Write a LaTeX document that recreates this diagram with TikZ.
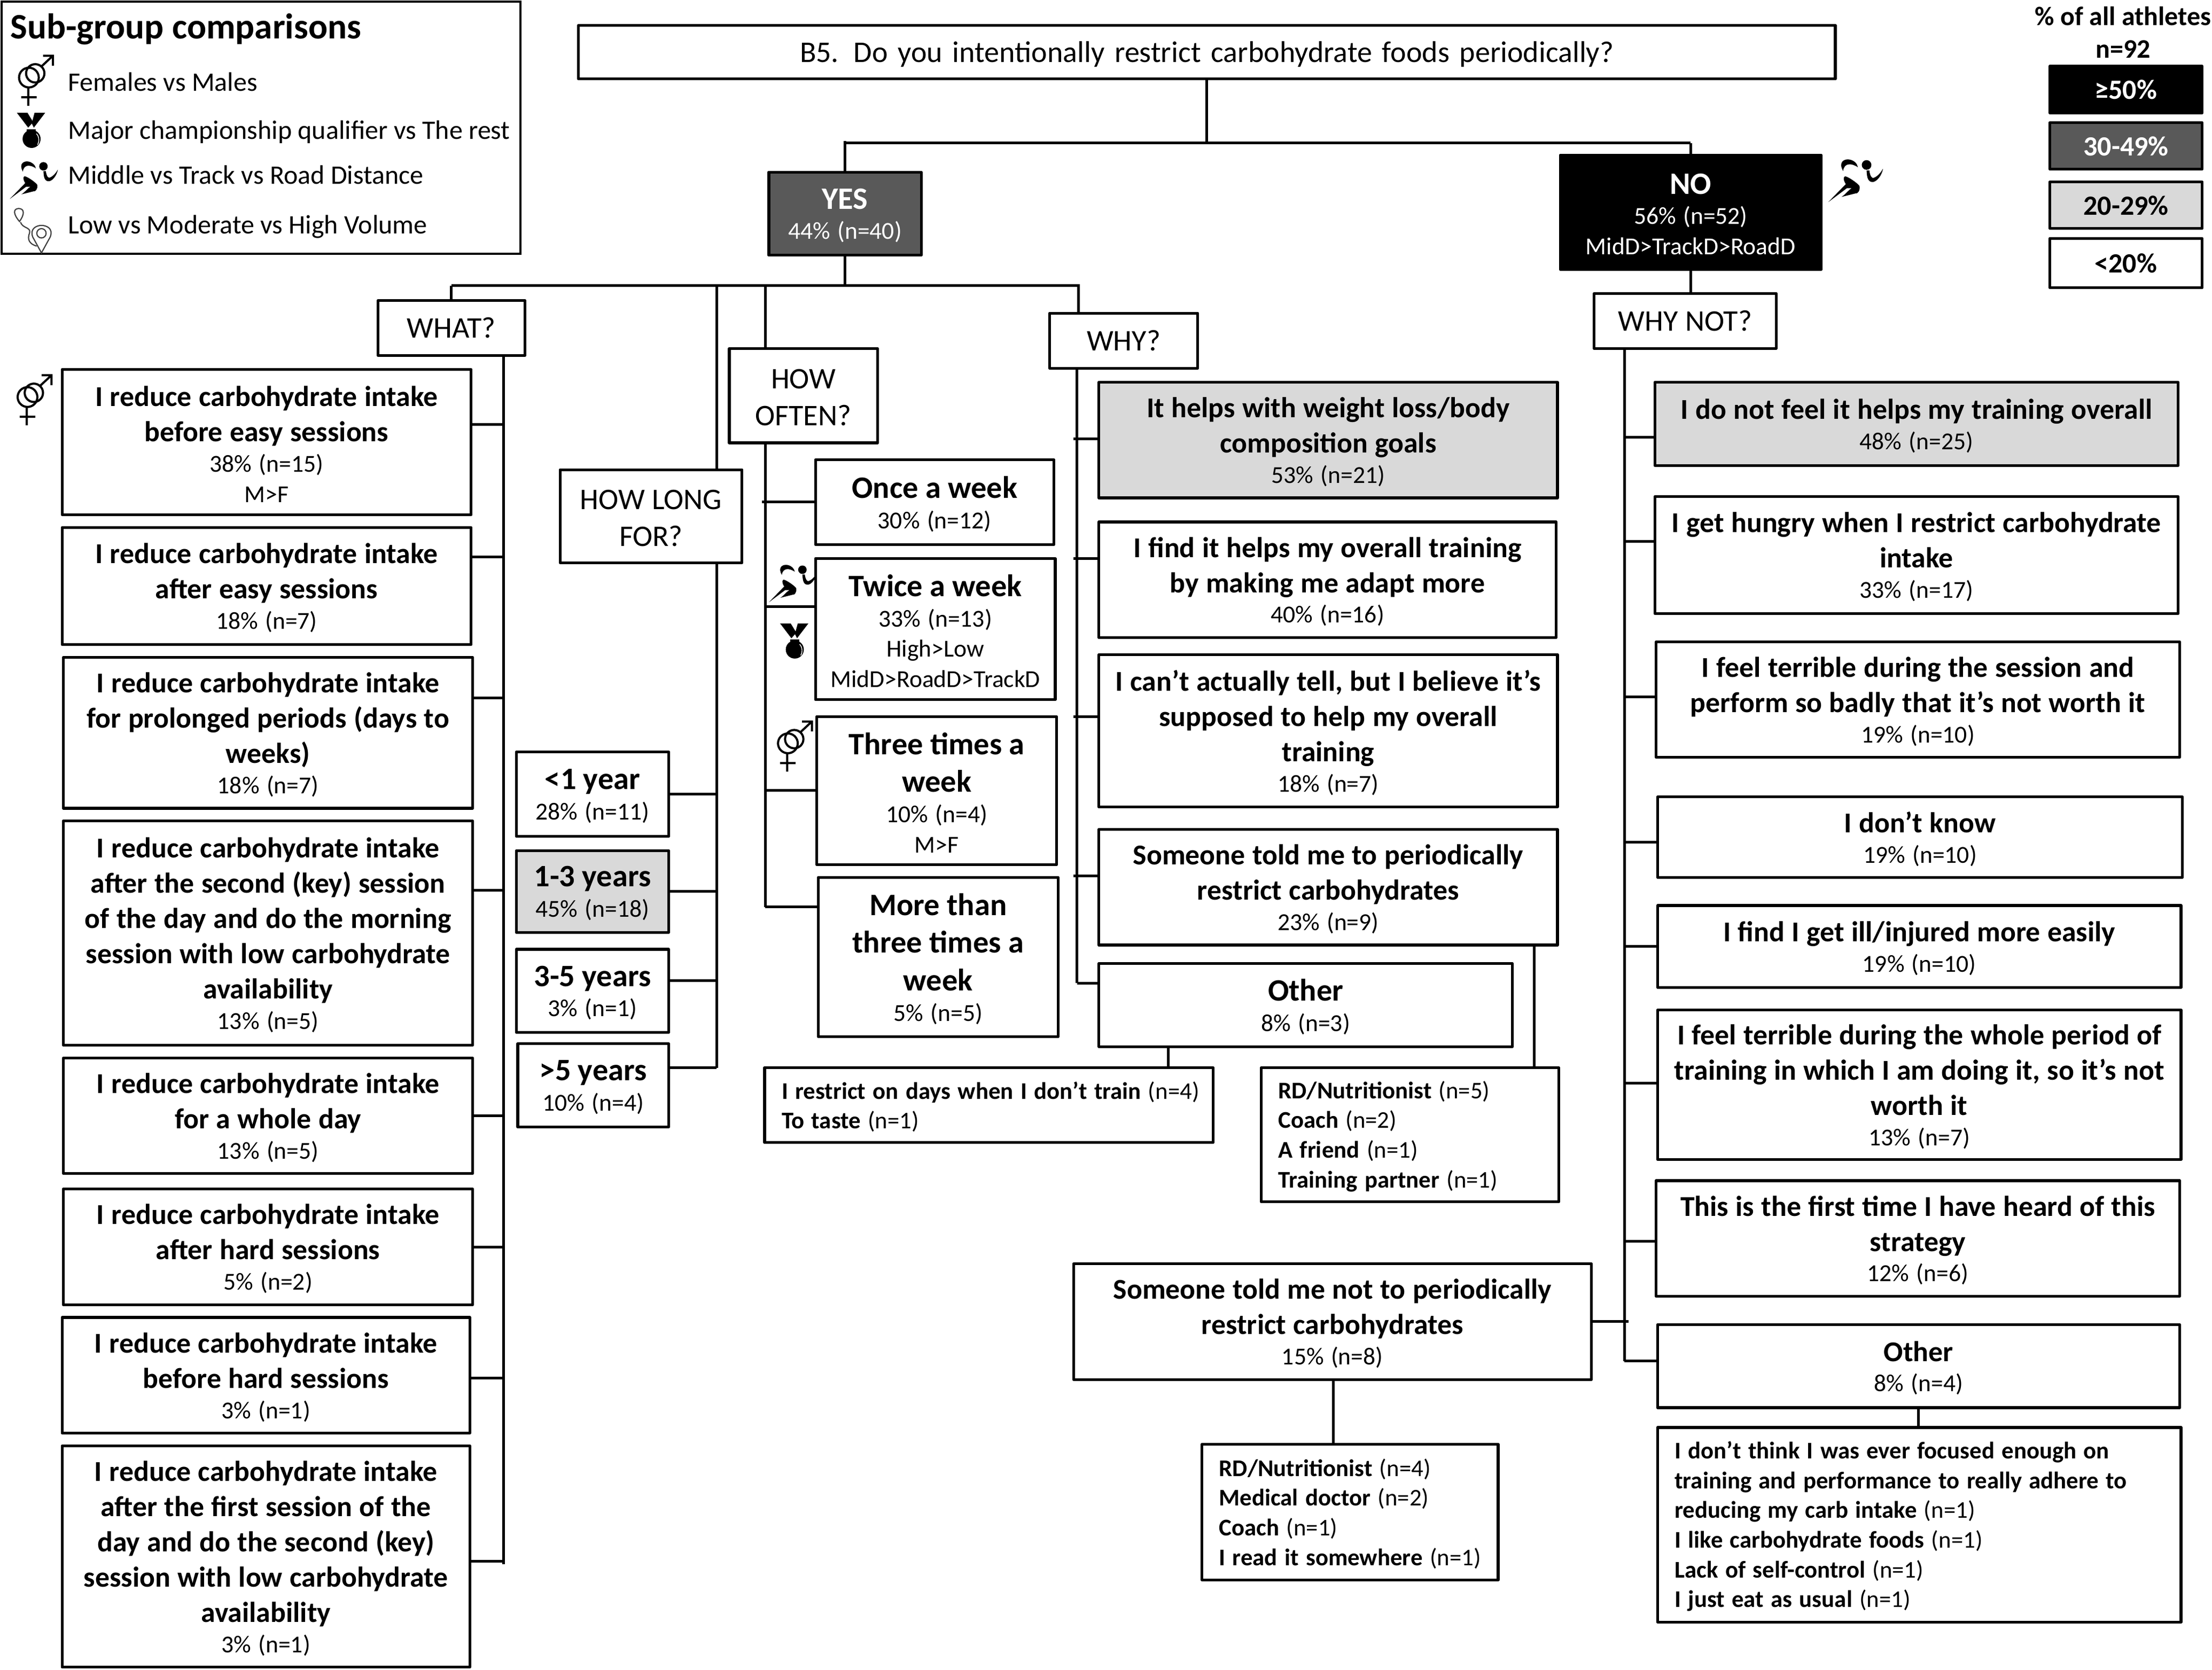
\documentclass[tikz,border=0pt]{standalone}
\usepackage{fontspec}
\setmainfont{Carlito}
\newcommand{\ansl}[1]{{\fontsize{13.45}{16.5}\selectfont\bfseries #1\par}}
\newcommand{\ansb}[1]{{\fontsize{14.6}{17.6}\selectfont\bfseries #1\par}}
\newcommand{\pctl}[1]{{\fontsize{11.4}{14.2}\selectfont #1\par}}
\newcommand{\askl}[1]{{\fontsize{14}{17.2}\selectfont #1\par}}
\newcommand{\subl}[2]{{\fontsize{11.2}{13.9}\selectfont\noindent\mbox{\textbf{#1} #2}\par}}
\tikzset{
	boxsz/.style 2 args={minimum width=#1*0.66pt,minimum height=#2*0.66pt,text width=#1*0.66pt-2pt},
	ansbox/.style={draw,line width=1.3pt,line join=round,fill=white,anchor=north west,inner xsep=1pt,inner ysep=0pt,outer sep=0pt,align=center,execute at end node={\par\vskip-1.8pt\hrule height 0pt}},
	listbox/.style 2 args={draw,line width=1.3pt,line join=round,fill=white,anchor=north west,inner xsep=8pt,inner ysep=0pt,outer sep=0pt,align=left,minimum width=#1*0.66pt,minimum height=#2*0.66pt,text width=#1*0.66pt-16pt,execute at end node={\par\vskip-1.5pt\hrule height 0pt}},
	midfill/.style={fill=midgray},
	lowfill/.style={fill=lowgray},
	conn/.style={line width=1.25pt},
	stub/.style={shorten >=-1.6pt},
	legtext/.style={anchor=base west,inner sep=0pt,font=\fontsize{12.5}{15}\selectfont},
	pics/gendermark/.style={code={
		\draw[line width=1pt] (7.5,16) circle (7);
		\draw[line width=1pt] (12,13) circle (6.5);
		\draw[line width=1pt] (7,23)--(7,36) (2,30)--(13,30) (16.5,8)--(24.5,0.5) (17.5,0.5)--(24.5,0.5)--(24.5,7.5);
	}},
	pics/medalmark/.style={code={
		\fill (0,0)--(7.5,0)--(11.5,6.5)--(8,10.5)--cycle;
		\fill (12.5,0)--(20,0)--(12,10.5)--(10.5,7.5)--cycle;
		\fill (7,11.5) rectangle (13.5,13);
		\fill (10.4,18.5) circle (6.4);
		\draw[white,line width=0.35pt] (13.8,14.8) .. controls (15.8,16.5) and (16,20.5) .. (14.6,22.6);
	}},
	pics/runnermark/.style={code={
		\fill (23.8,3.9) circle (3);
		\fill (9.2,7.6) .. controls (6,2) and (10,0) .. (13,0.5) .. controls (16,1) and (18,3) .. (18.4,5.3) .. controls (15,3) and (10,2) .. (9.2,7.6) -- cycle;
		\fill (23.8,7.3) -- (25.5,7.3) .. controls (26,11) and (27,12) .. (28,12) .. controls (31,11) and (33,8) .. (34,6.2) .. controls (33.5,10) and (30,15) .. (27,14.5) .. controls (24,14) and (24,10) .. (23.8,7.3) -- cycle;
		\fill (0,27) -- (10.9,15.8) .. controls (9,13) and (9.5,11) .. (10.5,11) .. controls (12,11) and (18,15) .. (19.4,17) .. controls (20,20) and (18,22) .. (17,21.6) -- (8.2,23.8) .. controls (11,22) and (13,19) .. (14.6,18.4) -- (11.5,18.4) -- cycle;
	}},
	pics/routemark/.style={code={
		\draw[line width=0.55pt,black!75] (13.3,147.8) .. controls (9,148) and (9.5,152) .. (13.8,157) .. controls (17.5,152) and (17.5,148) .. (13.3,147.8) -- cycle;
		\draw[line width=0.55pt,black!75] (14.5,157.5) .. controls (16,162) and (22,161) .. (21,165) .. controls (19,170) and (21,173) .. (26,174.5);
		\draw[line width=0.55pt,black!75] (29.4,179.3) -- (23.2,168) .. controls (21,162) and (26,159.8) .. (29.4,159.8) .. controls (33,159.8) and (38,162) .. (35.6,168) -- cycle;
		\draw[line width=0.55pt,black!75] (29.4,165.4) circle (3.3);
	}}
}
\definecolor{midgray}{HTML}{595959}
\definecolor{lowgray}{HTML}{D9D9D9}
\begin{document}
\begin{tikzpicture}[x=0.66pt,y=-0.66pt]
	\useasboundingbox (0,0) rectangle (1568,1183.6);
	% legend
	\node[draw,line width=1pt,anchor=north west,outer sep=0pt,minimum width=368*0.66pt,minimum height=179*0.66pt](legend) at (1,1){};
	\node[legtext,font=\fontsize{16.8}{18}\selectfont\bfseries](legendhead) at (7,27.5){Sub-group comparisons};
	\node[legtext](legfm) at (48,64.6){Females vs Males};
	\node[legtext](legmc) at (48,98.6){Major championship qualifier vs The rest};
	\node[legtext](legmt) at (48,130.6){Middle vs Track vs Road Distance};
	\node[legtext](leglv) at (48,165.8){Low vs Moderate vs High Volume};
	\pic at (13,39) {gendermark};
	\pic at (12,80) {medalmark};
	\pic at (7,114) {runnermark};
	\pic {routemark};

	% key
	\node[anchor=base,inner sep=0pt,font=\fontsize{12.5}{14}\selectfont\bfseries](keyhead) at (1505,18){\% of all athletes};
	\node[anchor=base,inner sep=0pt,font=\fontsize{12.5}{14}\selectfont\bfseries](keyn) at (1505,41){n=92};
	\tikzset{keyfont/.style={font=\fontsize{13}{14}\selectfont\bfseries,align=center}}
	\node[ansbox,boxsz={108}{33},fill=black,text=white,keyfont](key50) at (1453,47){≥50\%};
	\node[ansbox,boxsz={108}{33},midfill,text=white,keyfont](key30) at (1453,87){30-49\%};
	\node[ansbox,boxsz={108}{33},lowfill,keyfont](key20) at (1453,129){20-29\%};
	\node[ansbox,boxsz={108}{35},keyfont](key0) at (1453,169){<20\%};

	% top of the tree
	\node[ansbox,boxsz={891}{38},font=\fontsize{14}{17}\selectfont](title) at (410,18){B5. Do you intentionally restrict carbohydrate foods periodically?};
	\node[ansbox,boxsz={108}{59},midfill,text=white](yes) at (545,122){\ansb{YES}\pctl{44\% (n=40)}};
	\node[ansbox,boxsz={185}{81},fill=black,text=white](no) at (1106,110){\ansb{NO}\pctl{56\% (n=52)}\pctl{MidD>TrackD>RoadD}};
	\pic[scale=1.14] at (1296,112.5) {runnermark};

	% questions
	\node[ansbox,boxsz={104}{39}](what) at (268,213){\askl{WHAT?}};
	\node[ansbox,boxsz={129}{66}](howlong) at (397,333){\askl{HOW LONG}\askl{FOR?}};
	\node[ansbox,boxsz={105}{67}](howoften) at (517,247){\askl{HOW}\askl{OFTEN?}};
	\node[ansbox,boxsz={105}{39}](why) at (744,222){\askl{WHY?}};
	\node[ansbox,boxsz={129}{39}](whynot) at (1130,208){\askl{WHY NOT?}};

	% what
	\pic at (12,265.5) {gendermark};
	\node[ansbox,boxsz={290}{103}](what1) at (44,262){\ansl{I reduce carbohydrate intake}\ansl{before easy sessions}\pctl{38\% (n=15)}\pctl{M>F}};
	\node[ansbox,boxsz={290}{83}](what2) at (44,374){\ansl{I reduce carbohydrate intake}\ansl{after easy sessions}\pctl{18\% (n=7)}};
	\node[ansbox,boxsz={290}{107}](what3) at (45,466){\ansl{I reduce carbohydrate intake}\ansl{for prolonged periods (days to}\ansl{weeks)}\pctl{18\% (n=7)}};
	\node[ansbox,boxsz={290}{159}](what4) at (45,582){\ansl{I reduce carbohydrate intake}\ansl{after the second (key) session}\ansl{of the day and do the morning}\ansl{session with low carbohydrate}\ansl{availability}\pctl{13\% (n=5)}};
	\node[ansbox,boxsz={290}{82}](what5) at (45,750){\ansl{I reduce carbohydrate intake}\ansl{for a whole day}\pctl{13\% (n=5)}};
	\node[ansbox,boxsz={290}{82}](what6) at (45,843){\ansl{I reduce carbohydrate intake}\ansl{after hard sessions}\pctl{5\% (n=2)}};
	\node[ansbox,boxsz={289}{82}](what7) at (44,934){\ansl{I reduce carbohydrate intake}\ansl{before hard sessions}\pctl{3\% (n=1)}};
	\node[ansbox,boxsz={289}{157}](what8) at (44,1025){\ansl{I reduce carbohydrate intake}\ansl{after the first session of the}\ansl{day and do the second (key)}\ansl{session with low carbohydrate}\ansl{availability}\pctl{3\% (n=1)}};

	% how long
	\node[ansbox,boxsz={108}{60}](long1) at (366,533){\ansb{<1 year}\pctl{28\% (n=11)}};
	\node[ansbox,boxsz={108}{58},lowfill](long2) at (366,603){\ansb{1-3 years}\pctl{45\% (n=18)}};
	\node[ansbox,boxsz={108}{59}](long3) at (366,673){\ansb{3-5 years}\pctl{3\% (n=1)}};
	\node[ansbox,boxsz={107}{59}](long4) at (367,740){\ansb{>5 years}\pctl{10\% (n=4)}};

	% how often
	\node[ansbox,boxsz={169}{60}](often1) at (578,326){\ansb{Once a week}\pctl{30\% (n=12)}};
	\node[ansbox,boxsz={170}{100}](often2) at (578,396){\ansb{Twice a week}\pctl{33\% (n=13)}\pctl{High>Low}\pctl{MidD>RoadD>TrackD}};
	\node[ansbox,boxsz={170}{105}](often3) at (579,508){\ansb{Three times a}\ansb{week}\pctl{10\% (n=4)}\pctl{M>F}};
	\node[ansbox,boxsz={170}{113}](often4) at (580,622){\ansb{More than}\ansb{three times a}\ansb{week}\pctl{5\% (n=5)}};
	\pic at (545,400) {runnermark};
	\pic at (553,442) {medalmark};
	\pic at (551,511) {gendermark};

	% why
	\node[ansbox,boxsz={325}{82},lowfill](why1) at (779,271){\ansl{It helps with weight loss/body}\ansl{composition goals}\pctl{53\% (n=21)}};
	\node[ansbox,boxsz={324}{82}](why2) at (779,370){\ansl{I find it helps my overall training}\ansl{by making me adapt more}\pctl{40\% (n=16)}};
	\node[ansbox,boxsz={325}{108}](why3) at (779,464){\ansl{I can’t actually tell, but I believe it’s}\ansl{supposed to help my overall}\ansl{training}\pctl{18\% (n=7)}};
	\node[ansbox,boxsz={325}{82}](why4) at (779,588){\ansl{Someone told me to periodically}\ansl{restrict carbohydrates}\pctl{23\% (n=9)}};
	\node[ansbox,boxsz={293}{59}](why5) at (779,683){\ansb{Other}\pctl{8\% (n=3)}};
	\node[listbox={318}{53}](whyother) at (542,757){\subl{I restrict on days when I don’t train}{(n=4)}\subl{To taste}{(n=1)}};
	\node[listbox={211}{95}](whytold) at (894,757){\subl{RD/Nutritionist}{(n=5)}\subl{Coach}{(n=2)}\subl{A friend}{(n=1)}\subl{Training partner}{(n=1)}};

	% why not
	\node[ansbox,boxsz={371}{59},lowfill](not1) at (1173,271){\ansl{I do not feel it helps my training overall}\pctl{48\% (n=25)}};
	\node[ansbox,boxsz={371}{83}](not2) at (1173,352){\ansl{I get hungry when I restrict carbohydrate}\ansl{intake}\pctl{33\% (n=17)}};
	\node[ansbox,boxsz={371}{82}](not3) at (1174,455){\ansl{I feel terrible during the session and}\ansl{perform so badly that it’s not worth it}\pctl{19\% (n=10)}};
	\node[ansbox,boxsz={372}{57}](not4) at (1175,565){\ansl{I don’t know}\pctl{19\% (n=10)}};
	\node[ansbox,boxsz={371}{58}](not5) at (1175,642){\ansl{I find I get ill/injured more easily}\pctl{19\% (n=10)}};
	\node[ansbox,boxsz={371}{106}](not6) at (1175,716){\ansl{I feel terrible during the whole period of}\ansl{training in which I am doing it, so it’s not}\ansl{worth it}\pctl{13\% (n=7)}};
	\node[ansbox,boxsz={371}{82}](not7) at (1174,837){\ansl{This is the first time I have heard of this}\ansl{strategy}\pctl{12\% (n=6)}};
	\node[ansbox,boxsz={370}{59}](not8) at (1175,939){\ansl{Other}\pctl{8\% (n=4)}};
	\node[listbox={371}{138}](notother) at (1175,1012){\subl{I don't think I was ever focused enough on}{}\subl{training and performance to really adhere to}{}\subl{reducing my carb intake}{(n=1)}\subl{I like carbohydrate foods}{(n=1)}\subl{Lack of self-control}{(n=1)}\subl{I just eat as usual}{(n=1)}};
	\node[ansbox,boxsz={367}{82}](nottold) at (761,896){\ansl{Someone told me not to periodically}\ansl{restrict carbohydrates}\pctl{15\% (n=8)}};
	\node[listbox={210}{96}](nottoldlist) at (852,1024){\subl{RD/Nutritionist}{(n=4)}\subl{Medical doctor}{(n=2)}\subl{Coach}{(n=1)}\subl{I read it somewhere}{(n=1)}};

	% connectors
	\coordinate (topbus) at (855.5,101.4);
	\coordinate (yesbus) at (599,202.6);
	\coordinate (yesbusl) at (320,202.6);
	\coordinate (whatspine) at (357,1109);
	\coordinate (longspine) at (508,757);
	\coordinate (oftenspine) at (542.5,643);
	\coordinate (whyspine) at (763.4,697);
	\coordinate (whyin) at (764.4,202.6);
	\coordinate (notspine) at (1151.5,965);
	\coordinate (nottoldend) at (1154.5,936);
	\coordinate (whyotherin) at (828,742);
	\coordinate (whytoldin) at (1087.6,670);
	\coordinate (nottoldin) at (945,978);
	\coordinate (nototherin) at (1360,998);
	\draw[conn] (title.south) -- (topbus);
	\draw[conn] (yes.north |- topbus) -- (no.north |- topbus);
	\draw[conn,shorten <=-1pt] (yes.north |- topbus) -- (yes.north);
	\draw[conn] (no.north |- topbus) -- (no.north);
	\draw[conn] (no.south) -- (no.south |- whynot.north);
	\draw[conn] (yes.south) -- (yesbus);
	\draw[conn] (yesbusl) -- (whyin) -- (whyin |- why.north);
	\draw[conn] (yesbusl) -- (yesbusl |- what.north);
	\draw[conn] (longspine |- yesbus) -- (longspine |- howlong.north);
	\draw[conn] (longspine |- howlong.south) -- (longspine);
	\draw[conn] (oftenspine |- yesbus) -- (oftenspine |- howoften.north);
	\draw[conn] (oftenspine |- howoften.south) -- (oftenspine);
	\draw[conn] (whatspine |- what.south) -- (whatspine);
	\draw[conn] (whyspine |- why.south) -- (whyspine);
	\draw[conn] (notspine |- whynot.south) -- (notspine);
	\foreach \n/\s in {what1/12.5,what2/20.5,what3/24.5,what4/30.5,what5/0,what6/0,what7/-2,what8/-3.5}
		\draw[conn] ([yshift=\s*0.66pt]\n.east) -- ([yshift=\s*0.66pt]\n.east -| whatspine);
	\foreach \n/\s in {long1/0,long2/0,long3/7.5,long4/12.5}
		\draw[conn] ([yshift=\s*0.66pt]\n.east) -- ([yshift=\s*0.66pt]\n.east -| longspine);
	\draw[conn,stub] (often1.west) -- (often1.west -| oftenspine);
	\foreach \n/\s in {often2/16,often3/0,often4/35.5}
		\draw[conn] ([yshift=\s*0.66pt]\n.west) -- ([yshift=\s*0.66pt]\n.west -| oftenspine);
	\foreach \n/\s in {why1/1,why2/15,why3/10,why4/8}
		\draw[conn,stub] ([yshift=\s*0.66pt]\n.west) -- ([yshift=\s*0.66pt]\n.west -| whyspine);
	\draw[conn] ([yshift=15.5*0.66pt]why5.west) -- ([yshift=15.5*0.66pt]why5.west -| whyspine);
	\foreach \n/\s in {not1/-9.5,not2/9.5,not3/2,not4/-3.5,not5/0,not6/1,not7/-2,not8/3.5}
		\draw[conn] ([yshift=\s*0.66pt]\n.west) -- ([yshift=\s*0.66pt]\n.west -| notspine);
	\draw[conn] (nottold.east) -- (nottold.east -| nottoldend);
	\draw[conn] (nottoldin) -- (nottoldin |- nottoldlist.north);
	\draw[conn] (nototherin) -- (nototherin |- notother.north);
	\draw[conn] (whyotherin) -- (whyotherin |- whyother.north);
	\draw[conn] (whytoldin) -- (whytoldin |- whytold.north);
\end{tikzpicture}
\end{document}
